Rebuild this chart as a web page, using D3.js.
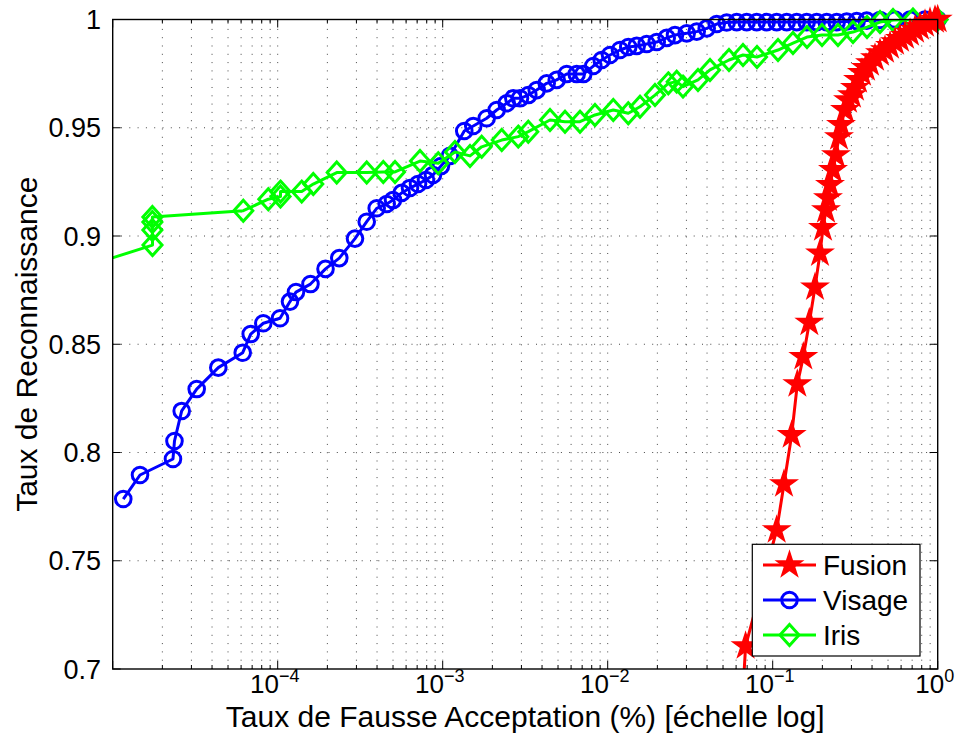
<!DOCTYPE html>
<html><head><meta charset="utf-8">
<script src="https://cdn.jsdelivr.net/npm/d3@7"></script>
<style>body{margin:0;background:#fff}svg{display:block}text{font-family:"Liberation Sans",Arial,Helvetica,sans-serif;fill:#000}</style>
</head><body>
<svg id="c" width="964" height="753"></svg>
<script>
// ---- data ----
const seriesNames = ["Fusion", "Visage", "Iris"];
const fusionFAR = [0.0661,0.0685,0.1057,0.1171,0.1303,0.1410,0.1533,0.1667,0.1805,0.1935,0.2018,0.2104,0.2163,0.2225,0.2320,0.2418,0.2522,0.2594,0.2743,0.2861,0.3023,0.3152,0.3289,0.3477,0.3677,0.3888,0.4169,0.4470,0.4793,0.5140,0.5512,0.5910,0.6338,0.6796,0.7287,0.7814,0.8378,0.8983,0.9630,1];
const fusionGAR = [0.690,0.7106,0.7642,0.7854,0.8081,0.8316,0.8442,0.8600,0.8763,0.8920,0.9037,0.9120,0.9175,0.9236,0.9305,0.9374,0.9457,0.9513,0.9582,0.9628,0.9651,0.9684,0.9721,0.9753,0.9776,0.9799,0.9822,0.9845,0.9859,0.9878,0.9896,0.9910,0.9924,0.9938,0.9952,0.9965,0.9979,0.9988,0.9998,1];
const visageFAR = [1.159e-5,1.464e-5,2.319e-5,2.368e-5,2.619e-5,3.229e-5,4.365e-5,6.136e-5,6.862e-5,8.18e-5,1.033e-4,1.187e-4,1.291e-4,1.58e-4,1.949e-4,2.362e-4,2.941e-4,3.463e-4,3.981e-4,4.577e-4,4.998e-4,5.643e-4,6.336e-4,7.085e-4,7.92e-4,8.73e-4,9.76e-4,1.107e-3,1.351e-3,1.532e-3,1.848e-3,2.125e-3,2.443e-3,2.679e-3,2.941e-3,3.302e-3,3.713e-3,4.269e-3,4.909e-3,5.644e-3,6.489e-3,7.115e-3,8.18e-3,9.197e-3,1.033e-2,1.187e-2,1.333e-2,1.499e-2,1.723e-2,1.982e-2,2.279e-2,2.558e-2,3.012e-2,3.463e-2,3.981e-2,4.577e-2,5.262e-2,6.05e-2,6.957e-2,7.998e-2,9.196e-2,0.1057,0.1216,0.1398,0.1607,0.1848,0.2125,0.2443,0.2809,0.3229,0.3713,0.4470,0.5512,0.6796,0.8378,1];
const visageGAR = [0.7785,0.7896,0.7970,0.8053,0.8192,0.8293,0.8392,0.8461,0.8547,0.8597,0.8620,0.8697,0.8741,0.8778,0.8848,0.8898,0.8988,0.9066,0.9128,0.9148,0.9166,0.9199,0.9222,0.9240,0.9259,0.9282,0.9323,0.9370,0.9485,0.9508,0.9544,0.9582,0.9613,0.9636,0.9636,0.9651,0.9674,0.9705,0.9721,0.9748,0.9748,0.9748,0.9785,0.9813,0.9836,0.9859,0.9873,0.9878,0.9887,0.9896,0.9915,0.9928,0.9936,0.9944,0.9959,0.9979,0.9986,0.9988,0.9988,0.9988,0.9988,0.9988,0.9988,0.9988,0.9988,0.9988,0.9988,0.9988,0.9991,0.9993,0.9995,0.9998,1,1,1,1];
const irisFAR = [5e-6,1.743e-5,1.74e-5,1.74e-5,1.74e-5,6.187e-5,8.77e-5,1.04e-4,1.04e-4,1.398e-4,1.643e-4,2.279e-4,3.463e-4,4.365e-4,5.14e-4,7.285e-4,9.404e-4,1.187e-3,1.464e-3,1.723e-3,2.279e-3,2.871e-3,3.302e-3,4.47e-3,5.512e-3,6.796e-3,8.375e-3,1.081e-2,1.333e-2,1.57e-2,1.935e-2,2.33e-2,2.619e-2,2.86e-2,3.526e-2,4.169e-2,5.434e-2,6.607e-2,8.034e-2,0.1077,0.1327,0.1614,0.1990,0.2487,0.3066,0.3729,0.4470,0.5361,0.7083,1];
const irisGAR = [0.8826,0.8958,0.9028,0.9065,0.9088,0.9117,0.9170,0.9182,0.9205,0.9205,0.9240,0.9293,0.9293,0.9296,0.9296,0.9346,0.9336,0.9388,0.9370,0.9412,0.9443,0.9459,0.9482,0.9536,0.9528,0.9528,0.9559,0.9582,0.9567,0.9597,0.9651,0.9705,0.9713,0.9690,0.9721,0.9767,0.9813,0.9836,0.9827,0.9859,0.9891,0.9919,0.9928,0.9928,0.9942,0.9965,0.9988,0.9998,1,1];
const xTickValues = [1e-4, 1e-3, 1e-2, 1e-1, 1];
const xTickExponents = ["\u22124", "\u22123", "\u22122", "\u22121", "0"];
const yTickValues = [0.7, 0.75, 0.8, 0.85, 0.9, 0.95, 1];
const yTickLabels = ["0.7", "0.75", "0.8", "0.85", "0.9", "0.95", "1"];
const xLabel = "Taux de Fausse Acceptation (%) [\u00e9chelle log]";
const yLabel = "Taux de Reconnaissance";

// ---- layout ----
const L = 112.7, R = 937.7, T = 19.5, B = 669;
const svg = d3.select("#c");
const x = d3.scaleLog().domain([1e-5, 1]).range([L, R]);
const y = d3.scaleLinear().domain([0.7, 1]).range([B, T]);

// minor log positions
const minorX = [];
for (let k = -5; k < 0; k++) for (let m = 1; m <= 9; m++) minorX.push(m * Math.pow(10, k));
minorX.push(1);

// grid
const grid = svg.append("g");
grid.selectAll("line.vx").data(minorX.filter(v => v > 1e-5 && v < 1)).join("line")
  .attr("x1", d => x(d)).attr("x2", d => x(d)).attr("y1", B).attr("y2", T)
  .attr("stroke", "#333").attr("stroke-width", 0.9).attr("stroke-dasharray", "1,7.3");
grid.selectAll("line.hy").data(yTickValues.filter(v => v > 0.7 && v < 1)).join("line")
  .attr("x1", L).attr("x2", R).attr("y1", d => y(d)).attr("y2", d => y(d))
  .attr("stroke", "#333").attr("stroke-width", 0.9).attr("stroke-dasharray", "1,7.3");

// ticks (inward, on all four sides)
const tk = svg.append("g").attr("stroke", "#000").attr("stroke-width", 1);
minorX.forEach(v => {
  const major = Math.abs(Math.log10(v) - Math.round(Math.log10(v))) < 1e-9;
  const len = major ? 8 : 4;
  tk.append("line").attr("x1", x(v)).attr("x2", x(v)).attr("y1", B).attr("y2", B - len);
  tk.append("line").attr("x1", x(v)).attr("x2", x(v)).attr("y1", T).attr("y2", T + len);
});
yTickValues.forEach(v => {
  tk.append("line").attr("x1", L).attr("x2", L + 8).attr("y1", y(v)).attr("y2", y(v));
  tk.append("line").attr("x1", R).attr("x2", R - 8).attr("y1", y(v)).attr("y2", y(v));
});

// series
const series = [
  {name: "Visage", far: visageFAR, gar: visageGAR, color: "#0000ff", marker: "circle"},
  {name: "Iris", far: irisFAR, gar: irisGAR, color: "#00ff00", marker: "diamond"},
  {name: "Fusion", far: fusionFAR, gar: fusionGAR, color: "#ff0000", marker: "star"}
];
svg.append("clipPath").attr("id", "clip").append("rect")
  .attr("x", L).attr("y", T).attr("width", R - L).attr("height", B - T);

const starPath = d3.symbol().type(d3.symbolStar).size(200)();
function drawMarker(g, type, color, cx, cy) {
  if (type === "circle") {
    g.append("circle").attr("cx", cx).attr("cy", cy).attr("r", 7.8)
      .attr("fill", "none").attr("stroke", color).attr("stroke-width", 3);
  } else if (type === "diamond") {
    g.append("path").attr("d", `M${cx},${cy - 10.5}L${cx + 9.5},${cy}L${cx},${cy + 10.5}L${cx - 9.5},${cy}Z`)
      .attr("fill", "none").attr("stroke", color).attr("stroke-width", 3);
  } else {
    g.append("path").attr("d", starPath).attr("transform", `translate(${cx},${cy})`)
      .attr("fill", color).attr("stroke", color).attr("stroke-width", 1.5).attr("stroke-linejoin", "miter");
  }
}

series.forEach(s => {
  const pts = s.far.map((f, i) => [f, s.gar[i]]);
  const g = svg.append("g");
  g.append("path").datum(pts).attr("clip-path", "url(#clip)")
    .attr("d", d3.line().x(d => x(d[0])).y(d => y(d[1])))
    .attr("fill", "none").attr("stroke", s.color).attr("stroke-width", 3).attr("stroke-linejoin", "round");
  pts.filter(d => d[0] >= 1e-5 && d[0] <= 1 && d[1] >= 0.7 && d[1] <= 1)
    .forEach(d => drawMarker(g, s.marker, s.color, x(d[0]), y(d[1])));
});

// axes box
svg.append("rect").attr("x", L).attr("y", T).attr("width", R - L).attr("height", B - T)
  .attr("fill", "none").attr("stroke", "#000").attr("stroke-width", 1.4);

// tick labels
const yl = svg.append("g");
yTickValues.forEach((v, i) => {
  yl.append("text").attr("x", 101).attr("y", y(v)).attr("dy", "0.36em")
    .attr("text-anchor", "end").attr("font-size", 27).text(yTickLabels[i]);
});
const xl = svg.append("g");
xTickValues.forEach((v, i) => {
  const t = xl.append("text").attr("x", x(v) - 3).attr("y", 693).attr("text-anchor", "middle").attr("font-size", 26);
  t.append("tspan").text("10");
  t.append("tspan").attr("font-size", 18).attr("dy", -11).text(xTickExponents[i]);
});

// axis labels
svg.append("text").attr("x", (L + R) / 2).attr("y", 727).attr("text-anchor", "middle")
  .attr("font-size", 30).text(xLabel);
svg.append("text").attr("transform", `translate(37,${(T + B) / 2}) rotate(-90)`)
  .attr("text-anchor", "middle").attr("font-size", 30).text(yLabel);

// legend
const lg = svg.append("g");
lg.append("rect").attr("x", 752.3).attr("y", 544.3).attr("width", 167.7).attr("height", 111.7)
  .attr("fill", "#fff").attr("stroke", "#000").attr("stroke-width", 1.2);
const legendItems = [
  {name: seriesNames[0], color: "#ff0000", marker: "star"},
  {name: seriesNames[1], color: "#0000ff", marker: "circle"},
  {name: seriesNames[2], color: "#00ff00", marker: "diamond"}
];
legendItems.forEach((it, i) => {
  const cy = 565 + i * 35;
  lg.append("line").attr("x1", 763).attr("x2", 816).attr("y1", cy).attr("y2", cy)
    .attr("stroke", it.color).attr("stroke-width", 3);
  drawMarker(lg, it.marker, it.color, 789.5, cy);
  lg.append("text").attr("x", 823).attr("y", cy).attr("dy", "0.36em").attr("font-size", 28).text(it.name);
});
</script>
</body></html>
